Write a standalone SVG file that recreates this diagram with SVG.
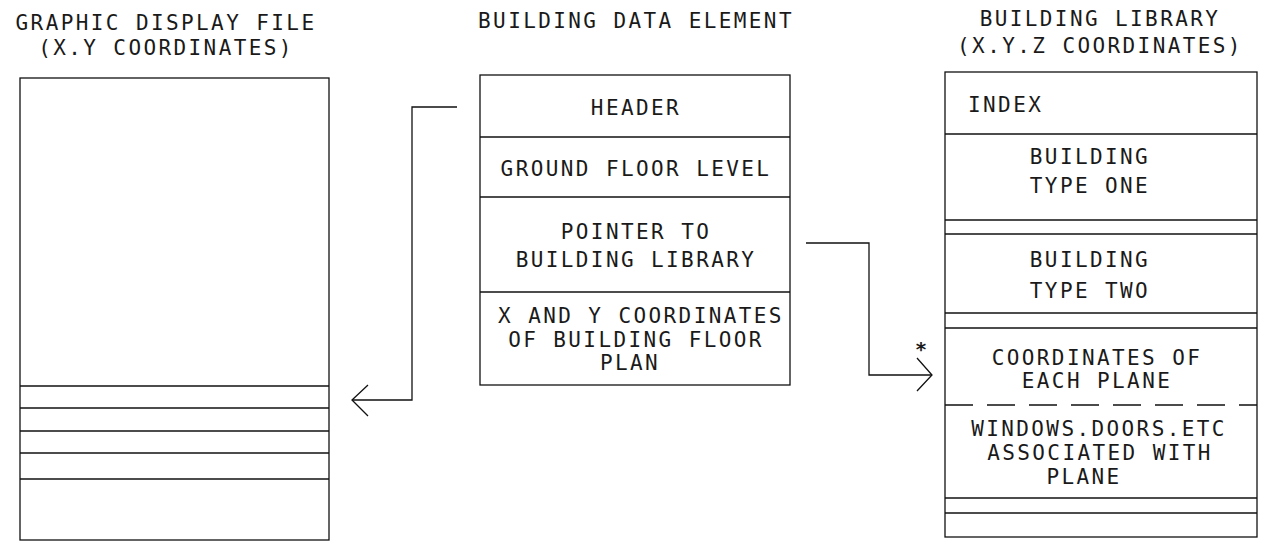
<svg xmlns="http://www.w3.org/2000/svg" width="1264" height="543" viewBox="0 0 1264 543">
  <style>
    .frame { fill: none; stroke: #111; stroke-width: 1.3; }
    .rule { stroke: #111; stroke-width: 1.3; fill: none; }
    .dash { stroke: #111; stroke-width: 1.3; fill: none; stroke-dasharray: 28 14; }
    .wire { stroke: #111; stroke-width: 1.3; fill: none; stroke-linejoin: miter; }
    text { font-family: "DejaVu Sans Mono", "Liberation Mono", monospace; font-size: 21px; letter-spacing: 2.4px; fill: #1a1a1a; }
    .c { text-anchor: middle; }
    .mark { font-size: 20px; letter-spacing: 0; font-weight: bold; }
  </style>

  <rect width="1264" height="543" fill="#fff"/>

  <!-- Graphic display file: plain stack of records -->
  <g id="graphic-display-file">
    <text class="c" x="166" y="30">GRAPHIC DISPLAY FILE</text>
    <text class="c" x="166" y="55">(X.Y COORDINATES)</text>
    <rect class="frame" x="20" y="78" width="309" height="462"/>
    <line class="rule" x1="20" y1="386" x2="329" y2="386"/>
    <line class="rule" x1="20" y1="408" x2="329" y2="408"/>
    <line class="rule" x1="20" y1="431" x2="329" y2="431"/>
    <line class="rule" x1="20" y1="453" x2="329" y2="453"/>
    <line class="rule" x1="20" y1="479" x2="329" y2="479"/>
  </g>

  <!-- Building data element record -->
  <g id="building-data-element">
    <text class="c" x="636" y="28">BUILDING DATA ELEMENT</text>
    <rect class="frame" x="480" y="75" width="310" height="310"/>
    <line class="rule" x1="480" y1="137" x2="790" y2="137"/>
    <line class="rule" x1="480" y1="197" x2="790" y2="197"/>
    <line class="rule" x1="480" y1="292" x2="790" y2="292"/>
    <text class="c" x="636" y="115">HEADER</text>
    <text class="c" x="636" y="176">GROUND FLOOR LEVEL</text>
    <text class="c" x="636" y="239">POINTER TO</text>
    <text class="c" x="636" y="267">BUILDING LIBRARY</text>
    <text class="c" x="641" y="323">X AND Y COORDINATES</text>
    <text class="c" x="636" y="347">OF BUILDING FLOOR</text>
    <text class="c" x="630" y="370">PLAN</text>
  </g>

  <!-- Building library: index plus building type blocks -->
  <g id="building-library">
    <text class="c" x="1100" y="26">BUILDING LIBRARY</text>
    <text class="c" x="1100" y="53">(X.Y.Z COORDINATES)</text>
    <rect class="frame" x="945" y="72" width="312" height="465"/>
    <line class="rule" x1="945" y1="134" x2="1257" y2="134"/>
    <line class="rule" x1="945" y1="220" x2="1257" y2="220"/>
    <line class="rule" x1="945" y1="234" x2="1257" y2="234"/>
    <line class="rule" x1="945" y1="313" x2="1257" y2="313"/>
    <line class="rule" x1="945" y1="328" x2="1257" y2="328"/>
    <line class="dash" x1="945" y1="405" x2="1257" y2="405"/>
    <line class="rule" x1="945" y1="498" x2="1257" y2="498"/>
    <line class="rule" x1="945" y1="513" x2="1257" y2="513"/>
    <text x="968" y="112">INDEX</text>
    <text class="c" x="1090" y="164">BUILDING</text>
    <text class="c" x="1090" y="193">TYPE ONE</text>
    <text class="c" x="1090" y="267">BUILDING</text>
    <text class="c" x="1090" y="298">TYPE TWO</text>
    <text class="c" x="1097" y="365">COORDINATES OF</text>
    <text class="c" x="1097" y="388">EACH PLANE</text>
    <text class="c" x="1099" y="436">WINDOWS.DOORS.ETC</text>
    <text class="c" x="1100" y="460">ASSOCIATED WITH</text>
    <text class="c" x="1084" y="484">PLANE</text>
  </g>

  <!-- Connectors with open arrowheads -->
  <g id="connectors">
    <path class="wire" d="M457 107 H412 V400 H352"/>
    <path class="wire" d="M368 385 L352 400 L368 416"/>
    <path class="wire" d="M806 243 H869 V375 H932"/>
    <path class="wire" d="M917 358 L932 375 L917 391"/>
    <text class="c mark" x="921" y="356">*</text>
  </g>
</svg>
